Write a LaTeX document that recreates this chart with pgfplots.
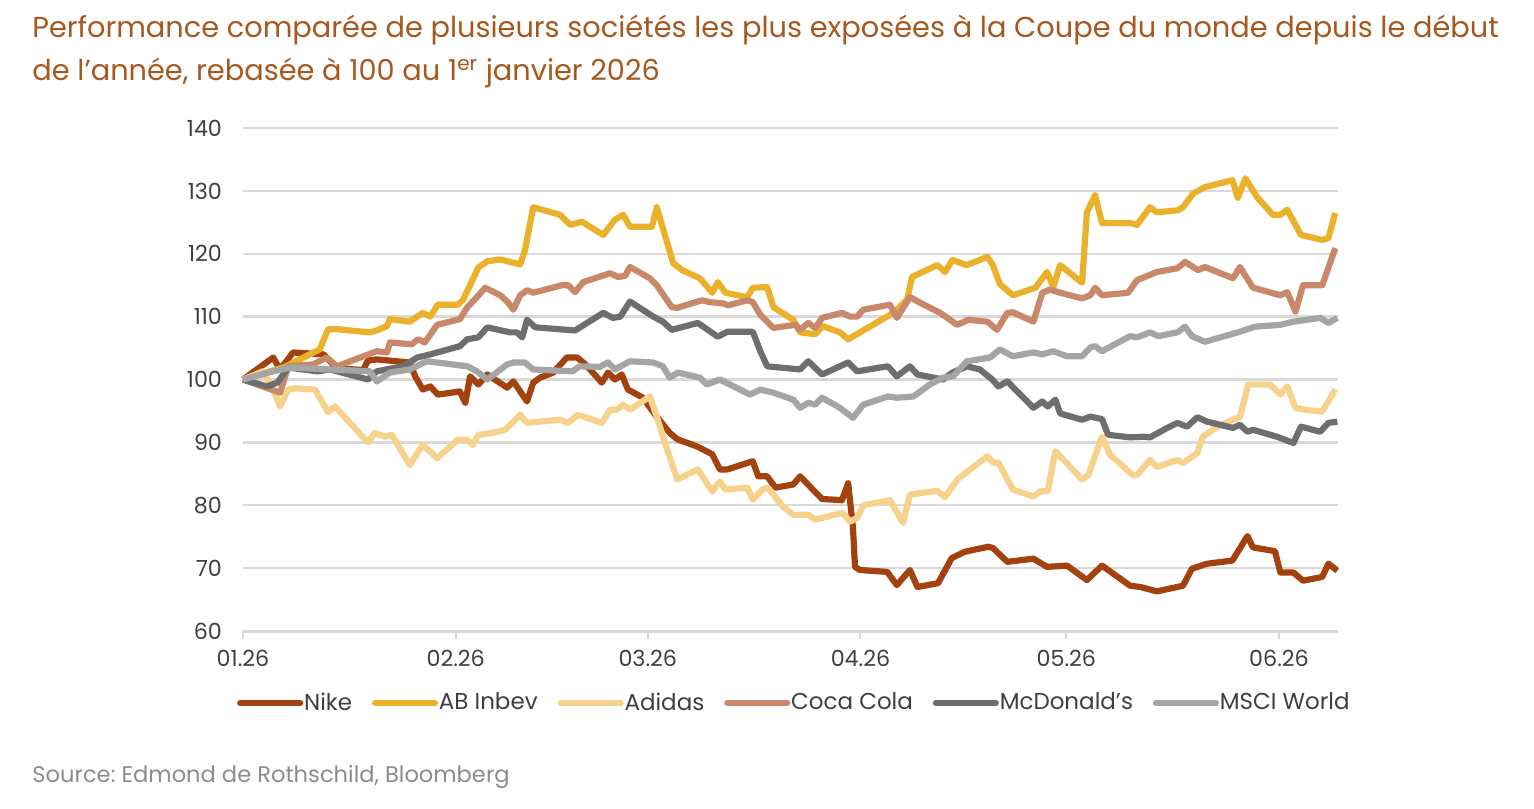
\documentclass[border=0pt]{standalone}
\usepackage{pgfplots}
\pgfplotsset{compat=1.18}
\usepackage{fontspec}
\setmainfont{Poppins}
\frenchspacing
\definecolor{nike}{HTML}{A3420F}
\definecolor{abi}{HTML}{EBB12B}
\definecolor{adi}{HTML}{F6D28C}
\definecolor{coke}{HTML}{C9886A}
\definecolor{mcd}{HTML}{6E6E6E}
\definecolor{msci}{HTML}{A5A5A5}
\definecolor{titlec}{HTML}{A6581F}
\definecolor{gridc}{HTML}{D9D9D9}
\definecolor{labc}{HTML}{3F3F3F}
\definecolor{srcc}{HTML}{8C8C8C}
\begin{document}
\begin{tikzpicture}[x=0.5pt,y=0.5pt]
\useasboundingbox (0,0) rectangle (1534,808);
\node[anchor=base west, text=titlec, font=\fontsize{14.4}{16}\selectfont, inner sep=0] at (32,808-38) {Performance comparée de plusieurs sociétés les plus exposées à la Coupe du monde depuis le début};
\node[anchor=base west, text=titlec, font=\fontsize{14.4}{16}\selectfont, inner sep=0] at (32,808-81) {de l’année, rebasée à 100 au 1\textsuperscript{er} janvier 2026};
\node[anchor=base west, text=srcc, font=\fontsize{11.3}{13}\selectfont, inner sep=0] at (32,808-782) {Source: Edmond de Rothschild, Bloomberg};
\begin{axis}[
  at={(121.5pt,88.5pt)}, anchor=south west,
  scale only axis, width=547.5pt, height=251.5pt,
  xmin=0, xmax=159.6, ymin=60, ymax=140,
  clip=false,
  axis x line*=bottom, axis y line*=left,
  y axis line style={draw=none},
  x axis line style={draw=gridc, line width=1.5pt, -},
  xtick={0,31,59,90,120,151},
  xticklabels={01.26,02.26,03.26,04.26,05.26,06.26},
  ytick={60,70,...,140},
  tick align=outside,
  major tick length=4pt,
  x tick style={draw=gridc, line width=1pt},
  y tick style={draw=none},
  ymajorgrids, major grid style={draw=gridc, line width=1.2pt},
  tick label style={font=\fontsize{11.1}{13}\selectfont, text=labc},
  /pgf/number format/assume math mode=true,
  yticklabel style={xshift=-3pt},
  xticklabel style={yshift=-2pt},
  legend columns=6,
  legend style={at={(0.503,-0.143)}, anchor=center, draw=none, fill=none,
    font=\fontsize{11.5}{13}\selectfont, text=labc,
    nodes={inner sep=0.4pt},
    /tikz/every odd column/.append style={column sep=0pt},
    /tikz/every even column/.append style={column sep=9.5pt},
    inner sep=0pt},
  legend image code/.code={\draw[#1, line cap=round] (0pt,0pt) -- (30pt,0pt);},
  every axis plot/.append style={line width=3.1pt, line join=round},
]
\addplot[nike] coordinates {(0,100)(4.4,103.5)(5.4,101.6)(7.3,104.3)(11.7,104)(13.7,101.8)(17.5,101.5)(18.2,103)(19.5,103.2)(24.3,102.7)(25.1,100.5)(26.2,98.4)(27.3,98.9)(28.4,97.6)(31.6,98.1)(32.4,96.3)(33.1,100.5)(34.3,99.2)(35.6,100.8)(38.5,98.7)(39.4,99.7)(41.4,96.5)(42.3,99.5)(43.3,100.3)(45.2,101.1)(47.2,103.5)(48.7,103.5)(49.6,102.7)(51.0,101.1)(52.3,99.5)(53.2,101.1)(54.2,100)(55.2,100.8)(56.1,98.4)(58.3,97.1)(60.0,94.5)(62.2,91.5)(63.3,90.5)(66.3,89.3)(68.4,88.1)(69.5,85.7)(70.6,85.7)(74.3,87.0)(75.1,84.6)(76.4,84.6)(77.6,82.8)(80.2,83.3)(81.2,84.6)(82.7,82.9)(84.4,81.0)(87.3,80.8)(88.2,83.5)(88.9,76.5)(89.2,70.2)(89.9,69.7)(93.9,69.4)(95.3,67.3)(97.2,69.7)(98.3,67.0)(101.3,67.6)(103.3,71.6)(105.2,72.6)(108.6,73.4)(109.3,73.2)(111.4,71.0)(115.2,71.5)(117.2,70.2)(120.1,70.4)(123.0,68.1)(125.2,70.4)(129.3,67.2)(130.8,67.0)(133.2,66.3)(137.0,67.2)(138.3,69.9)(140.5,70.7)(144.2,71.2)(146.4,75.1)(147.2,73.3)(150.4,72.7)(151.2,69.3)(153.1,69.3)(154.5,68.0)(157.3,68.6)(158.2,70.7)(159.5,69.6)};
\addlegendentry{Nike}
\addplot[abi] coordinates {(0,100)(6.1,102)(11.2,104.8)(12.4,108)(13.7,108)(18.5,107.5)(19.5,107.8)(21.0,108.5)(21.4,109.6)(24.3,109.2)(26.2,110.6)(27.3,110)(28.4,111.9)(31.3,111.9)(32.1,112.7)(34.3,117.8)(35.6,118.8)(37.5,119.1)(40.4,118.3)(41.1,120.6)(42.3,127.4)(46.2,126.2)(47.7,124.6)(49.4,125.1)(52.5,123.0)(54.2,125.4)(55.4,126.2)(56.4,124.3)(59.6,124.3)(60.3,127.4)(62.7,118.5)(64.0,117.4)(66.6,116.1)(68.4,113.8)(69.2,115.5)(70.3,113.8)(73.5,113.1)(74.3,114.6)(76.4,114.7)(77.3,111.5)(80.2,109.5)(81.2,107.5)(83.4,107.2)(84.5,108.5)(87.0,107.5)(88.2,106.4)(94.8,110.6)(96.8,112.7)(97.5,116.3)(101.2,118.2)(102.3,117.1)(103.4,119.0)(105.5,118.2)(108.5,119.5)(109.3,118.2)(110.3,115.2)(112.2,113.4)(115.5,114.6)(117.2,117.1)(118.1,114.7)(119.1,118.2)(122.3,115.4)(123.0,126.6)(124.2,129.3)(125.2,124.9)(129.3,124.9)(130.3,124.6)(132.2,127.4)(133.2,126.6)(136.2,126.9)(137.0,127.4)(138.5,129.6)(140.2,130.6)(144.2,131.7)(145.0,128.9)(146.1,132.0)(147.8,129.0)(150.1,126.2)(151.2,126.2)(152.2,127.0)(154.2,123.0)(157.3,122.2)(158.2,122.5)(159.2,126.5)};
\addlegendentry{AB Inbev}
\addplot[adi] coordinates {(0,100)(2.9,101.3)(4.4,98.4)(5.4,95.7)(6.6,98.4)(7.6,98.6)(10.5,98.4)(12.4,94.8)(13.4,95.7)(18.2,90.0)(19.2,91.5)(20.7,90.9)(21.7,91.2)(24.3,86.4)(26.2,89.6)(28.3,87.5)(31.3,90.4)(32.7,90.4)(33.5,89.6)(34.3,91.2)(36.4,91.5)(38.2,92.0)(40.4,94.4)(41.4,93.1)(46.2,93.6)(47.4,93.1)(48.8,94.4)(52.3,93.1)(53.5,95.2)(54.5,95.2)(55.4,96.0)(56.4,95.2)(59.3,97.3)(60.3,94.1)(61.8,88.9)(63.3,84.1)(66.3,85.7)(68.4,82.2)(69.5,83.8)(70.3,82.5)(73.5,82.8)(74.3,80.9)(75.7,82.5)(76.5,82.8)(78.7,79.8)(80.2,78.5)(82.4,78.5)(83.4,77.7)(87.3,78.8)(88.5,77.4)(89.5,78.0)(90.4,80.0)(94.3,80.8)(96.2,77.2)(97.2,81.7)(101.2,82.3)(102.3,81.3)(104.2,84.2)(108.5,87.8)(109.3,86.8)(110.1,86.8)(112.2,82.5)(115.2,81.4)(116.2,82.2)(117.3,82.3)(118.4,88.6)(122.3,84.1)(123.2,84.8)(125.2,90.9)(126.4,88.0)(129.7,84.8)(130.3,84.8)(132.2,87.2)(133.2,86.1)(136.2,87.2)(137.0,86.7)(139.1,88.3)(139.9,90.9)(141.7,92.3)(144.2,93.6)(145.3,94.0)(146.5,99.2)(149.7,99.2)(151.2,97.6)(152.2,98.9)(153.4,95.5)(154.7,95.2)(157.3,94.9)(159.2,98.4)};
\addlegendentry{Adidas}
\addplot[coke] coordinates {(0,100)(5.4,97.9)(6.6,102.1)(10.2,102.4)(12.2,103.5)(13.7,102.1)(19.5,104.5)(21.0,104.3)(21.4,105.9)(24.6,105.6)(25.5,106.4)(26.5,105.9)(28.3,108.7)(31.6,109.6)(32.7,111.5)(34.1,113.1)(35.3,114.6)(37.5,113.4)(38.6,112.3)(39.4,111.1)(40.4,113.4)(41.4,114.2)(42.3,113.8)(46.5,115.0)(47.4,115.0)(48.4,113.9)(49.6,115.5)(53.5,116.9)(54.7,116.3)(55.7,116.5)(56.4,117.9)(59.3,116.1)(60.3,115.0)(62.5,111.5)(63.3,111.4)(66.9,112.6)(68.1,112.3)(70.0,112.1)(70.7,111.8)(73.5,112.6)(74.3,112.3)(75.4,110.3)(77.3,108.2)(80.5,108.7)(81.2,107.9)(82.4,109.0)(83.4,108.2)(84.4,109.8)(87.3,110.6)(88.5,110.0)(89.5,110.0)(90.4,111.1)(94.3,111.9)(95.3,109.8)(97.2,113.1)(98.7,112.2)(101.6,110.6)(104.1,108.7)(105.7,109.5)(108.5,109.2)(109.9,107.9)(111.4,110.6)(112.2,110.7)(115.2,109.2)(116.5,113.8)(117.6,114.3)(119.1,113.8)(122.3,112.9)(123.5,113.4)(124.2,114.6)(125.2,113.4)(129.0,113.8)(130.3,115.8)(133.2,117.1)(136.2,117.7)(137.3,118.7)(139.2,117.4)(140.2,117.9)(144.3,116.1)(145.3,117.9)(147.2,114.6)(151.2,113.4)(152.2,113.9)(153.4,110.8)(154.5,115.0)(157.3,115.0)(159.2,120.9)};
\addlegendentry{Coca Cola}
\addplot[mcd] coordinates {(0,100)(3.5,98.9)(5.0,99.5)(6.6,101.9)(10.8,101.3)(12.7,101.6)(18.2,100)(19.5,101.3)(23.3,102.1)(25.4,103.5)(27.3,104.0)(31.6,105.3)(32.7,106.4)(34.3,106.7)(35.6,108.3)(38.9,107.5)(39.9,107.5)(40.7,106.7)(41.4,109.5)(42.6,108.3)(47.2,107.9)(48.4,107.8)(52.5,110.6)(53.9,109.8)(55.0,110.0)(56.4,112.4)(59.8,110.0)(61.2,109.2)(62.5,107.9)(66.3,109.0)(69.2,106.8)(70.6,107.6)(74.3,107.6)(75.4,104.5)(76.4,102.1)(78.3,101.9)(81.2,101.6)(82.4,102.9)(84.4,100.8)(88.2,102.7)(89.5,101.3)(94.0,102.1)(95.3,100.5)(97.2,102.1)(98.3,100.8)(102.0,100)(103.4,101.1)(105.5,102.1)(107.4,101.6)(109.2,100)(110.1,98.9)(111.4,99.7)(115.2,95.5)(116.5,96.5)(117.3,95.7)(118.4,96.8)(119.1,94.6)(122.3,93.6)(123.5,94.1)(125.2,93.7)(126.1,91.2)(129.3,90.8)(131.2,90.9)(132.2,90.8)(134.7,92.3)(136.2,93.1)(137.6,92.5)(139.1,94.0)(140.5,93.3)(144.3,92.3)(145.3,92.8)(146.4,91.7)(147.2,92.0)(150.7,90.9)(153.1,89.9)(154.2,92.5)(157.0,91.7)(158.2,93.1)(159.5,93.3)};
\addlegendentry{McDonald’s}
\addplot[msci] coordinates {(0,100)(4.4,101.3)(6.9,101.9)(12.7,101.6)(18.5,101.3)(19.5,99.7)(21.4,101.1)(24.3,101.6)(26.8,102.9)(32.7,102.1)(34.1,101.3)(35.6,100)(38.5,102.4)(39.4,102.7)(41.1,102.7)(42.3,101.6)(48.0,101.3)(49.1,102.1)(52.0,102.0)(53.2,102.7)(54.2,101.6)(56.4,102.9)(59.8,102.7)(61.2,102.1)(62.2,100.3)(63.4,101.1)(66.6,100.3)(67.6,99.2)(69.5,100)(73.9,97.6)(75.4,98.4)(77.3,97.9)(80.2,96.8)(81.2,95.5)(82.4,96.3)(83.4,96.0)(84.4,97.1)(87.0,95.5)(88.9,93.9)(90.4,96.0)(94.0,97.3)(95.3,97.1)(97.7,97.3)(100.1,99.2)(102.0,100.3)(103.5,100.5)(105.5,102.9)(108.9,103.5)(110.3,104.8)(112.2,103.7)(115.2,104.3)(116.5,104.0)(118.1,104.5)(120.1,103.7)(122.3,103.7)(123.5,105.1)(124.2,105.3)(125.2,104.5)(129.3,106.9)(130.3,106.7)(132.2,107.5)(133.4,106.9)(136.2,107.5)(137.3,108.4)(138.3,106.9)(140.2,106.0)(145.3,107.6)(147.5,108.4)(151.2,108.7)(153.1,109.2)(157.0,109.8)(158.2,109.0)(159.5,109.8)};
\addlegendentry{MSCI World}
\end{axis}
\end{tikzpicture}
\end{document}
